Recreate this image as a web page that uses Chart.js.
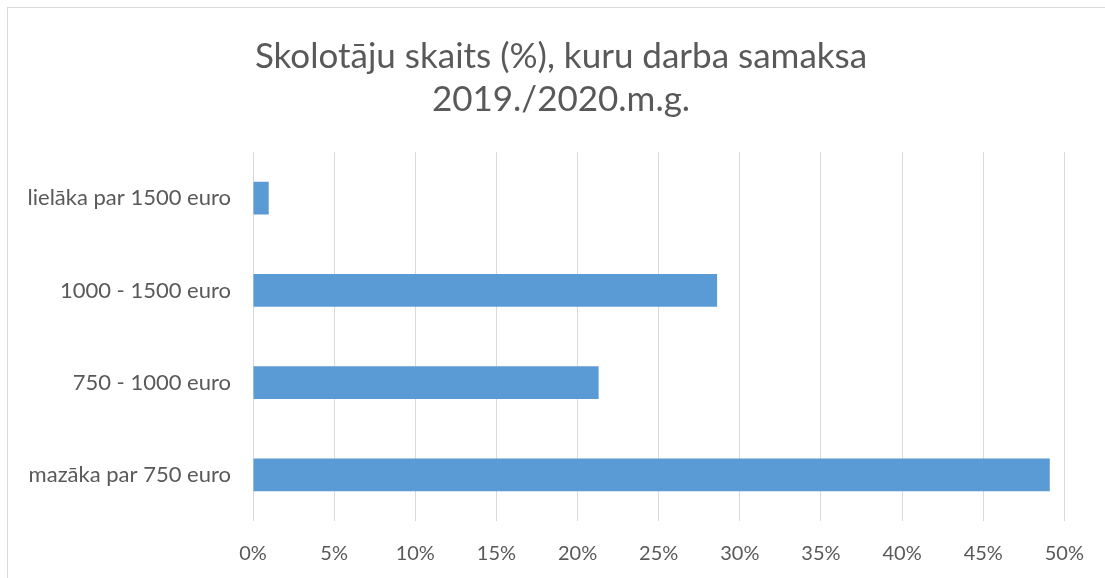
<!DOCTYPE html>
<html>
<head>
<meta charset="utf-8">
<script src="https://cdn.jsdelivr.net/npm/chart.js@4/dist/chart.umd.min.js"></script>
<style>
  html, body { margin: 0; padding: 0; background: #ffffff; }
  #wrap { position: relative; width: 1105px; height: 578px; overflow: hidden; }
  #frame { position: absolute; left: 7px; top: 7px; width: 1200px; height: 700px; border: 1px solid #d9d9d9; box-sizing: border-box; }
  canvas { position: absolute; left: 0; top: 0; }
</style>
</head>
<body>
<div id="wrap">
  <div id="frame"></div>
  <canvas id="c" width="1105" height="578"></canvas>
</div>
<script>
const titleLines = ["Skolotāju skaits (%), kuru darba samaksa", "2019./2020.m.g."];
const categories = ["lielāka par 1500 euro", "1000 - 1500 euro", "750 - 1000 euro", "mazāka par 750 euro"];
const shares = [0.97, 28.6, 21.3, 49.1];
const tickValues = [0, 5, 10, 15, 20, 25, 30, 35, 40, 45, 50];

const FONT = "Lato, 'Open Sans', sans-serif";
const GREY = "#595959";

// let the category labels extend into the left padding instead of being clipped
const unclipLabels = {
  id: "unclipLabels",
  afterLayout(chart) { chart.scales.y.left = 0; }
};

new Chart(document.getElementById("c"), {
  type: "bar",
  data: {
    labels: categories,
    datasets: [{
      data: shares,
      backgroundColor: "#5b9bd5",
      borderWidth: 0,
      categoryPercentage: 1.0,
      barPercentage: 0.355
    }]
  },
  plugins: [unclipLabels],
  options: {
    indexAxis: "y",
    responsive: false,
    animation: false,
    layout: { padding: { left: 56, right: 39, top: 0, bottom: 0 } },
    plugins: {
      legend: { display: false },
      tooltip: { enabled: false },
      title: {
        display: true,
        text: titleLines,
        color: GREY,
        font: { family: FONT, size: 35, weight: "normal", lineHeight: 1.23 },
        padding: { top: 35, bottom: 31 },
        align: "center"
      }
    },
    scales: {
      x: {
        min: 0,
        max: 50,
        afterBuildTicks: (axis) => { axis.ticks = tickValues.map(v => ({ value: v })); },
        ticks: {
          color: GREY,
          font: { family: FONT, size: 20 },
          padding: 21,
          maxRotation: 0,
          callback: (v) => v + "%"
        },
        grid: { color: "#d9d9d9", lineWidth: 1, drawTicks: false },
        border: { display: false },
        afterFit: (axis) => { axis.height = 57; }
      },
      y: {
        ticks: {
          color: GREY,
          font: { family: FONT, size: 22 },
          padding: 22
        },
        grid: { display: false, drawTicks: false },
        border: { display: false },
        afterFit: (axis) => { axis.width = 197; }
      }
    }
  }
});
</script>
</body>
</html>
